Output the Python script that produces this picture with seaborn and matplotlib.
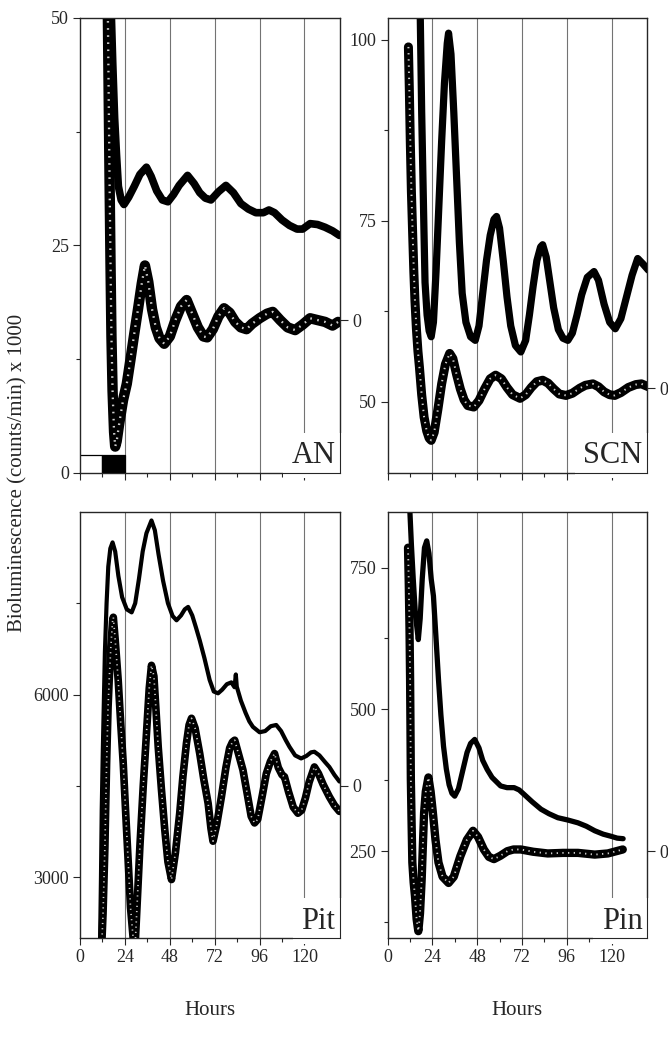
import numpy as np
import pandas as pd
import matplotlib
matplotlib.use('Agg')
import matplotlib.pyplot as plt
import seaborn as sns

# ---- data (hours, counts/min x 1000) ----
# AN
an_up_h = [16.5, 17.5, 18.5, 19.5, 20.5, 22, 23.5, 26, 29, 32, 35.5, 38, 41, 44, 47, 50, 53, 57.5,
           61, 64, 67, 70, 74, 78, 82, 86, 90, 94, 98, 101, 104, 108, 112, 116, 119, 123, 127, 131,
           135, 138.7]
an_up_v = [52, 45, 39, 35, 31.5, 30, 29.5, 30.3, 31.5, 32.8, 33.6, 32.6, 31.0, 30.0, 29.8, 30.6, 31.6,
           32.7, 31.8, 30.8, 30.2, 30.0, 30.9, 31.6, 30.8, 29.6, 29.0, 28.6, 28.6, 28.9, 28.6, 27.8,
           27.2, 26.8, 26.8, 27.4, 27.3, 27.0, 26.6, 26.1]
an_lo_h = [14.8, 15.3, 15.8, 16.3, 16.8, 17.4, 18.2, 18.8, 19.6, 21, 23, 25, 27, 29, 31, 33, 34.7,
           36.5, 38.5, 40.5, 42.5, 45, 48, 51, 54, 57, 60, 63, 66, 68, 71, 74, 77, 80, 83, 86, 89,
           92, 96, 100, 103, 107, 111, 115, 119, 123, 127, 131, 135, 138]
an_lo_v = [52, 42, 32, 23, 15, 9, 4.5, 2.9, 3.5, 5.5, 8, 9.8, 12.5, 15.3, 18, 20.8, 22.8,
           21, 18, 16, 14.8, 14.2, 15, 16.8, 18.3, 19.0, 17.5, 16, 15, 14.9, 15.8, 17.2, 18.1, 17.6,
           16.6, 16.0, 15.8, 16.4, 17.0, 17.5, 17.7, 16.8, 16.0, 15.7, 16.3, 17.0, 16.8, 16.6, 16.2,
           16.6]

# SCN
scn_up_h = [17.0, 17.5, 18.3, 18.9, 19.5, 20.1, 21.2, 22.3, 23.4, 24.6, 26, 27.5, 29, 30.5, 32,
            32.7, 34, 35.5, 37, 38.5, 40, 42, 44.5, 47, 49, 51, 53, 55, 57, 58.4, 60, 62, 64, 66,
            68.5, 71.4, 74, 76, 78, 80, 82, 83.1, 85, 87, 89, 91.5, 94, 96.6, 99, 101.5, 104, 107,
            110.6, 113, 116, 119, 122, 125, 128, 131, 134, 137, 139.7]
scn_up_v = [106, 104, 90, 82, 74, 66.5, 62, 59.8, 59.0, 61, 68, 77, 86, 94, 99.5,
            100.9, 98, 90, 81, 72, 65, 61, 59, 58.5, 60.5, 65, 69.5, 73, 75.2, 75.6, 74, 69.5, 64.5,
            60.5, 57.8, 56.9, 58.5, 62, 66, 69.5, 71.4, 71.7, 70, 66.5, 63, 60, 58.8, 58.5, 59.5, 62,
            64.8, 67.2, 68, 66.8, 63.5, 61, 60.1, 61.5, 64.5, 67.5, 69.8, 69, 68.2]
scn_lo_h = [11.2, 11.7, 12.2, 12.8, 13.5, 14.1, 14.7, 15.5, 16.3, 17.1, 18.3, 19.6, 21, 22.3, 23.4,
            25, 27, 29, 31, 33.3, 35, 37, 39, 41, 43, 46.2, 49, 52, 55, 57.9, 61, 64, 67, 71, 74,
            77, 80, 83.1, 86, 89, 92, 95.6, 99, 103, 106, 110, 113, 116, 119, 121.7, 125, 129, 133,
            136, 139.7]
scn_lo_v = [99, 93, 86, 79, 73, 68, 64, 60, 57, 54.8, 51, 47.9, 46, 45, 44.7,
            45.8, 49, 52.5, 55.2, 56.7, 56, 53.8, 51.8, 50.3, 49.5, 49.3, 50.2, 51.8, 53.2, 53.7, 53.2,
            52, 51, 50.5, 51, 52, 52.8, 53, 52.6, 51.8, 51.1, 50.9, 51.2, 51.9, 52.3, 52.5, 52.1, 51.4,
            51.0, 50.9, 51.3, 52.0, 52.4, 52.5, 52.1]

# Pit
pit_up_h = [10.7, 11.2, 11.6, 12.2, 13.3, 14.2, 15.1, 16.2, 17.4, 18.8, 20.5, 22.5, 25, 27.6, 29.5,
            31.5, 33.5, 35.5, 38.2, 40, 42, 44.4, 47, 49.5, 51.6, 54, 56, 57.8, 60, 62, 64, 66.5,
            69.3, 71.5, 73.8, 76, 78.5, 80.9, 82.6, 83.3, 83.8, 86, 88.5, 90.5, 92.4, 96, 99, 102,
            104.9, 107.5, 110, 112, 115, 118.2, 121, 123.5, 125.3, 128, 131, 133.3, 136, 138.7]
pit_up_v = [1900, 3000, 4100, 5100, 6700, 7500, 8100, 8400, 8500, 8350, 7950, 7600, 7400, 7350, 7500,
            7900, 8350, 8650, 8860, 8700, 8300, 7870, 7500, 7290, 7220, 7300, 7400, 7440, 7300, 7100,
            6890, 6600, 6240, 6050, 6020, 6080, 6170, 6200, 6120, 6330, 6130, 5900, 5700, 5560, 5470,
            5380, 5400, 5480, 5500, 5400, 5250, 5140, 5000, 4950, 4990, 5050, 5060, 5000, 4890, 4810,
            4680, 4570]
pit_lo_h = [11.5, 12.3, 13.3, 14.2, 15.0, 15.6, 16.5, 17.4, 17.8, 18.8, 20.4, 21.8, 23.1, 24.5, 25.8,
            27, 28.4, 29.5, 30.6, 32, 33.8, 35.6, 37, 38.2, 39.5, 40.7, 41.8, 43.5, 45.3, 47, 48.9,
            51, 53.3, 55, 56.9, 58.3, 59.6, 61.5, 64, 66.2, 68.5, 70, 71.1, 73, 75.6, 78, 80, 81.5,
            82.7, 84.5, 87.1, 89.5, 91.5, 93.3, 95, 97.5, 99.6, 101.8, 104, 106, 108, 109.3, 111.5,
            114, 116.5, 118.5, 120.5, 122.5, 125.3, 127.5, 130, 133.3, 136, 138.7]
pit_lo_v = [1800, 2400, 3500, 4870, 5800, 6240, 6800, 7200, 7270, 6900, 6240, 5500, 4870, 4000, 3230,
            2500, 2000, 1900, 2600, 3500, 4500, 5400, 6100, 6480, 6300, 5700, 5140, 4450, 3780, 3250,
            2960, 3400, 4050, 4650, 5200, 5500, 5610, 5450, 5030, 4600, 4210, 3800, 3590, 3850, 4320,
            4800, 5120, 5220, 5250, 5050, 4760, 4350, 4000, 3890, 3950, 4350, 4700, 4900, 5030, 4800,
            4680, 4650, 4400, 4150, 4050, 4100, 4300, 4560, 4810, 4700, 4520, 4320, 4180, 4080]

# Pin (counts/min)
pin_up_h = [11.0, 12.0, 12.8, 13.8, 15, 16.5, 17.5, 18.6, 19.8, 21.0, 22.2, 23.4, 24.6, 25.9, 27.3,
            28.6, 30, 31.5, 33, 34.5, 36, 38, 40.5, 42.6, 44.5, 46.7, 49, 51, 53.4, 56, 60.6, 64,
            67.8, 70.5, 73.2, 77.5, 82.2, 86.5, 91.2, 96.5, 102, 106.5, 111, 115.5, 120, 123, 126.2]
pin_up_v = [900, 848, 790, 729, 665, 623, 660, 730, 785, 797, 775, 730, 700, 630, 553,
            490, 435, 395, 367, 352, 347, 360, 395, 424, 440, 447, 432, 410, 394, 380, 365, 362,
            362, 358, 350, 337, 324, 316, 309, 305, 300, 294, 286, 280, 276, 273, 272]
pin_lo_h = [11.0, 11.4, 11.8, 12.1, 12.3, 12.5, 12.9, 13.3, 14.0, 14.7, 15.6, 16.5, 17.4, 18.3, 19.0,
            19.6, 20.5, 21.9, 23.1, 24.3, 25.7, 27.3, 29.5, 32.7, 35.5, 39, 42.5, 45.8, 48.5, 51.6,
            54.3, 57, 60.5, 64.2, 67.5, 71.4, 78, 85.8, 94, 102, 111, 118, 126]
pin_lo_v = [785, 720, 640, 553, 470, 377, 300, 230, 195, 171, 130, 109, 140, 200, 265,
            318, 355, 380, 355, 318, 270, 230, 205, 194, 205, 241, 270, 286, 275, 253,
            240, 236, 242, 250, 253, 253, 249, 246, 247, 247, 244, 246, 253]

# light/dark bar (AN panel)
ld_start = [0, 12]
ld_width = [12, 12]
ld_colors = ['white', 'black']
ld_height = 2

# axes settings
panel_names = ['AN', 'SCN', 'Pit', 'Pin']
y_limits = [(0, 50), (40.2, 103), (2000, 9000), (97, 848)]
y_major = [[0, 25, 50], [50, 75, 100], [3000, 6000], [250, 500, 750]]
y_minor = [[12.5, 37.5], [62.5, 87.5], [4500, 7500], [125, 375, 625]]
zero_level = [16.8, 51.9, 4500, 250]
hour_major = [0, 24, 48, 72, 96, 120]
hour_minor = [12, 36, 60, 84, 108, 132]
grid_hours = [24, 48, 72, 96, 120]

sns.set_style("ticks")
plt.rcParams['font.family'] = ['Liberation Serif', 'DejaVu Serif']
plt.rcParams['font.size'] = 13

fig = plt.figure(figsize=(6.68, 10.37), dpi=100)
boxes = [[0.1198, 0.5439, 0.3892, 0.4388],
         [0.5801, 0.5439, 0.3885, 0.4388],
         [0.1198, 0.0955, 0.3892, 0.4108],
         [0.5801, 0.0955, 0.3885, 0.4108]]
axes = [fig.add_axes(b) for b in boxes]

# (upper x, upper y, lower x, lower y, upper width, lower width)
traces = [
    (an_up_h, an_up_v, an_lo_h, an_lo_v, 5.5, 7.5),
    (scn_up_h, scn_up_v, scn_lo_h, scn_lo_v, 5.2, 6.5),
    (pit_up_h, pit_up_v, pit_lo_h, pit_lo_v, 3.0, 5.5),
    (pin_up_h, pin_up_v, pin_lo_h, pin_lo_v, 3.8, 6.0),
]

for i, ax in enumerate(axes):
    uh, uv, lh, lv, lw_up, lw_lo = traces[i]
    for g in grid_hours:
        ax.axvline(g, color='0.45', lw=0.8, zorder=1)

    up = pd.DataFrame({'h': uh, 'v': uv})
    lo = pd.DataFrame({'h': lh, 'v': lv})
    sns.lineplot(data=up, x='h', y='v', ax=ax, color='black', lw=lw_up, zorder=3)
    # lower trace: open-square records -> thick band with faint hollow speckle
    sns.lineplot(data=lo, x='h', y='v', ax=ax, color='black', lw=lw_lo, zorder=3)
    sns.lineplot(data=lo, x='h', y='v', ax=ax, color='0.8', lw=lw_lo * 0.22, zorder=4,
                 linestyle=(0, (0.7, 2.4)))

    ax.set_xlim(0, 139)
    ax.set_ylim(*y_limits[i])
    ax.set_yticks(y_major[i])
    ax.set_yticks(y_minor[i], minor=True)
    ax.set_xticks(hour_major)
    ax.set_xticks(hour_minor, minor=True)
    ax.set_xlabel('')
    ax.set_ylabel('')
    ax.tick_params(axis='both', which='major', direction='out', length=5, width=0.8,
                   labelsize=13, pad=3)
    ax.tick_params(axis='both', which='minor', direction='out', length=3, width=0.8)
    if i < 2:
        ax.tick_params(axis='x', labelbottom=False)
    for s in ax.spines.values():
        s.set_visible(True)
        s.set_color('black')
        s.set_linewidth(0.9)

    # right-hand zero marker for the lower trace
    ax2 = ax.twinx()
    ax2.set_ylim(*y_limits[i])
    ax2.set_yticks([zero_level[i]])
    ax2.set_yticklabels(['0'])
    ax2.tick_params(axis='y', direction='out', length=6, width=0.8, labelsize=13, pad=3)
    ax2.grid(False)

    ax.text(0.982, 0.022, panel_names[i], transform=ax.transAxes, ha='right', va='baseline',
            fontsize=22, zorder=6,
            bbox=dict(facecolor='white', edgecolor='none', pad=6))

# light/dark bar
axes[0].bar(ld_start, ld_height, width=ld_width, align='edge', color=ld_colors,
            edgecolor='black', linewidth=0.9, zorder=5)

fig.text(0.026, 0.544, 'Bioluminescence (counts/min) x 1000', rotation=90,
         ha='center', va='center', fontsize=15)
fig.text(0.314, 0.026, 'Hours', ha='center', va='center', fontsize=15)
fig.text(0.774, 0.026, 'Hours', ha='center', va='center', fontsize=15)

fig.savefig('out.png', dpi=100)
